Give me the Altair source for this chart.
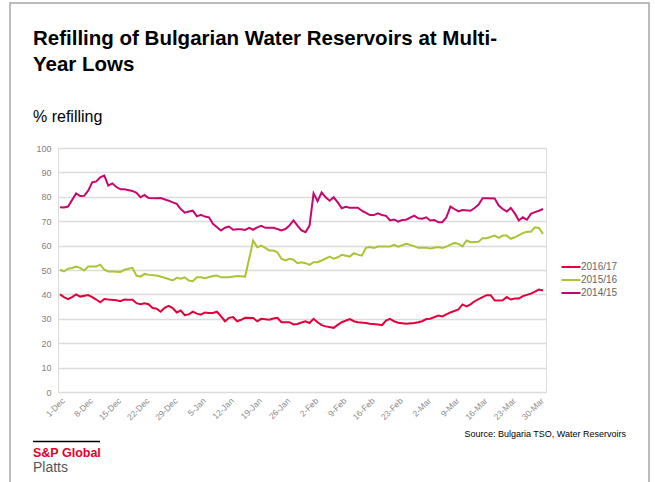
import json
import altair as alt
import pandas as pd

TITLE_LINES = ["Refilling of Bulgarian Water Reservoirs at Multi-", "Year Lows"]
SUBTITLE = "% refilling"
SOURCE = "Source: Bulgaria TSO, Water Reservoirs"
BRAND = "S&P Global"
BRAND2 = "Platts"

SERIES = ["2016/17", "2015/16", "2014/15"]
COLORS = ["#E2003A", "#A9C536", "#C8076E"]

TICK_DAYS = [0, 7, 14, 21, 28, 35, 42, 49, 56, 63, 70, 77, 84, 91, 98, 105, 112, 119]
TICK_LABELS = ["1-Dec", "8-Dec", "15-Dec", "22-Dec", "29-Dec", "5-Jan", "12-Jan", "19-Jan",
               "26-Jan", "2-Feb", "9-Feb", "16-Feb", "23-Feb", "2-Mar", "9-Mar", "16-Mar",
               "23-Mar", "30-Mar"]
Y_TICKS = [0, 10, 20, 30, 40, 50, 60, 70, 80, 90, 100]

# day offsets from 1-Dec and % refilling
DAYS_1617 = [0, 1, 2, 3, 4, 5, 7, 8, 9, 10, 11, 12, 14, 15, 16, 17, 18, 19, 20, 21, 22, 23, 24, 25,
             26, 27, 28, 29, 30, 31, 32, 33, 34, 35, 36, 37, 38, 39, 40, 41, 42, 43, 44, 45, 46,
             48, 49, 50, 52, 53, 54, 55, 57, 58, 59, 60, 61, 62, 63, 64, 65, 66, 68, 69, 70, 72,
             73, 74, 76, 77, 79, 80, 81, 82, 83, 84, 86, 88, 89, 90, 91, 92, 94, 95, 96, 97, 99,
             100, 101, 102, 103, 105, 106, 107, 108, 109, 110, 111, 112, 113, 114, 115, 117, 118,
             119, 120]
VALS_1617 = [40.0, 38.9, 38.1, 38.9, 40.0, 39.1, 39.7, 38.9, 37.9, 36.8, 38.1, 37.9, 37.6, 37.2,
             37.9, 37.8, 37.8, 36.4, 36.0, 36.4, 36.0, 34.4, 34.1, 32.9, 34.5, 35.3, 34.4, 32.6,
             33.4, 31.5, 31.8, 32.9, 32.1, 31.7, 32.6, 32.4, 32.4, 32.9, 31.0, 29.0, 30.4, 30.7,
             29.0, 29.6, 30.4, 30.3, 29.0, 30.0, 29.6, 30.1, 30.4, 28.6, 28.6, 27.7, 27.9, 28.5,
             29.0, 28.3, 30.0, 28.6, 27.4, 26.9, 26.3, 27.5, 28.6, 29.9, 29.0, 28.6, 28.3, 28.0,
             27.7, 27.4, 29.3, 30.0, 29.0, 28.4, 28.0, 28.3, 28.6, 29.0, 29.9, 30.0, 31.3, 31.0,
             31.8, 32.6, 33.8, 35.9, 35.1, 35.9, 37.2, 38.9, 39.7, 39.7, 37.5, 37.5, 37.6, 38.9,
             37.9, 38.3, 38.3, 39.3, 40.3, 41.1, 42.0, 41.6]

DAYS_1516 = [0, 1, 2, 3, 4, 5, 6, 7, 9, 10, 11, 12, 13, 15, 16, 17, 18, 19, 20, 21, 22, 24, 26,
             28, 29, 30, 31, 32, 33, 34, 35, 36, 38, 39, 40, 42, 44, 46, 48, 49, 50, 51, 52, 53,
             54, 55, 56, 57, 58, 59, 60, 61, 62, 63, 64, 65, 67, 68, 69, 70, 72, 73, 74, 75, 76,
             77, 78, 79, 81, 82, 83, 84, 86, 87, 88, 89, 91, 92, 94, 95, 96, 98, 99, 100, 101,
             102, 104, 105, 106, 108, 109, 110, 111, 112, 113, 115, 116, 117, 118, 119, 120]
VALS_1516 = [50.1, 49.4, 50.5, 50.8, 51.4, 50.9, 49.8, 51.4, 51.4, 52.2, 50.1, 49.4, 49.4, 49.2,
             50.1, 50.5, 50.9, 47.7, 47.3, 48.4, 48.0, 47.7, 46.8, 45.7, 46.8, 46.4, 47.0, 45.7,
             45.4, 47.0, 47.0, 46.6, 47.5, 47.7, 47.0, 47.0, 47.5, 47.3, 62.0, 59.3, 60.0, 59.1,
             58.0, 58.0, 57.3, 54.6, 53.9, 54.6, 54.2, 52.8, 53.2, 52.8, 52.1, 53.2, 53.2, 53.9,
             55.5, 54.6, 55.2, 56.2, 55.5, 56.9, 56.3, 55.9, 59.1, 59.4, 59.0, 59.6, 59.6, 59.6,
             60.3, 59.6, 60.7, 60.3, 59.8, 59.1, 59.1, 58.8, 59.4, 59.0, 59.6, 61.1, 60.7, 59.7,
             62.1, 61.4, 61.6, 63.0, 63.0, 64.1, 63.2, 64.1, 64.1, 62.8, 63.4, 65.1, 65.7, 65.7,
             67.5, 67.2, 64.8]

DAYS_1415 = [0, 1, 2, 4, 5, 6, 7, 8, 9, 10, 11, 12, 13, 14, 15, 16, 18, 19, 20, 21, 22, 24, 25,
             27, 28, 29, 30, 31, 32, 33, 34, 35, 36, 37, 38, 39, 40, 41, 42, 43, 44, 45, 46, 47,
             48, 49, 50, 51, 53, 54, 55, 56, 57, 58, 59, 60, 61, 62, 63, 64, 65, 66, 67, 68, 69,
             70, 71, 72, 73, 74, 75, 76, 77, 78, 79, 80, 81, 82, 83, 84, 85, 86, 88, 89, 90, 91,
             92, 93, 94, 95, 96, 97, 98, 99, 100, 102, 103, 104, 105, 106, 108, 109, 110, 111,
             112, 113, 114, 115, 116, 117, 118, 119, 120]
VALS_1415 = [75.7, 75.6, 76.0, 81.4, 80.3, 80.4, 82.5, 85.9, 86.3, 88.0, 88.7, 84.6, 85.5, 84.0,
             83.1, 83.1, 82.4, 81.6, 79.8, 80.8, 79.5, 79.4, 79.5, 78.4, 77.7, 77.1, 75.0, 73.5,
             74.0, 74.3, 72.0, 72.6, 71.9, 71.6, 68.9, 67.5, 66.2, 67.3, 67.8, 66.5, 66.7, 66.7,
             66.4, 67.3, 66.5, 67.5, 68.1, 67.3, 67.3, 66.8, 66.2, 66.8, 68.2, 70.3, 68.2, 66.2,
             65.5, 68.2, 81.4, 78.2, 81.8, 79.8, 78.4, 79.8, 77.7, 75.3, 75.9, 75.5, 75.5, 75.5,
             74.3, 73.4, 72.5, 72.5, 73.2, 72.5, 72.2, 70.3, 70.7, 69.8, 70.5, 70.6, 72.3, 71.2,
             71.0, 71.6, 70.3, 70.5, 69.6, 69.6, 71.6, 76.0, 75.0, 74.0, 74.6, 74.3, 75.4, 76.8,
             79.4, 79.4, 79.3, 76.4, 75.0, 74.0, 75.4, 73.2, 70.3, 71.6, 70.6, 73.0, 73.7, 74.3,
             75.0]

rows = []
for name, days, vals in [(SERIES[0], DAYS_1617, VALS_1617),
                         (SERIES[1], DAYS_1516, VALS_1516),
                         (SERIES[2], DAYS_1415, VALS_1415)]:
    assert len(days) == len(vals), name
    for d, v in zip(days, vals):
        rows.append({"season": name, "day": d, "value": v})
df = pd.DataFrame(rows)

FONT = "Liberation Sans"
label_expr = json.dumps(TICK_LABELS) + "[round(datum.value / 7)]"

lines = alt.Chart(df).mark_line(strokeWidth=2).encode(
    x=alt.X("day:Q",
            scale=alt.Scale(domain=[-0.5, 120.75], nice=False, zero=False),
            axis=alt.Axis(values=TICK_DAYS, labelExpr=label_expr, labelAngle=-45,
                          grid=False, ticks=False, domain=False, title=None,
                          labelColor="#8a8a8a", labelFontSize=8.5, labelFont=FONT,
                          labelPadding=4, labelOverlap=False)),
    y=alt.Y("value:Q",
            scale=alt.Scale(domain=[0, 100], nice=False),
            axis=alt.Axis(values=Y_TICKS, grid=True, gridColor="#dcdcdc", gridWidth=1.5,
                          ticks=False, domain=False, title=None, labelColor="#7f7f7f",
                          labelFontSize=9, labelFont=FONT, labelPadding=7)),
    color=alt.Color("season:N",
                    scale=alt.Scale(domain=SERIES, range=COLORS),
                    legend=alt.Legend(title=None, orient="none", legendX=505, legendY=111,
                                      symbolType="M-1.36,0H1.36", symbolSize=196,
                                      symbolStrokeWidth=2, labelFontSize=10,
                                      labelColor="#666666", labelFont=FONT, labelOffset=2,
                                      rowPadding=0)),
    detail="season:N",
)

one = pd.DataFrame({"k": [0]})


def text(t, x, y, **kw):
    return alt.Chart(pd.DataFrame({"t": [t]})).mark_text(font=FONT, **kw).encode(
        x=alt.value(x), y=alt.value(y), text="t:N")


frame = alt.Chart(one).mark_rect(fill="transparent", stroke="#a6a6a6", strokeWidth=1.5).encode(
    x=alt.value(-48), x2=alt.value(591), y=alt.value(-145), y2=alt.value(400))

brand_rule = alt.Chart(one).mark_rule(color="#000000", strokeWidth=1.5).encode(
    x=alt.value(-25), x2=alt.value(42), y=alt.value(293.5))

chart = alt.layer(
    frame,
    lines,
    text(TITLE_LINES[0], -25, -103, fontSize=20.5, fontWeight="bold", align="left",
         baseline="alphabetic", color="#000000"),
    text(TITLE_LINES[1], -25, -77, fontSize=20.5, fontWeight="bold", align="left",
         baseline="alphabetic", color="#000000"),
    text(SUBTITLE, -25, -26, fontSize=16, align="left", baseline="alphabetic",
         color="#000000"),
    text(SOURCE, 568, 289, fontSize=9, align="right", baseline="alphabetic",
         color="#000000"),
    brand_rule,
    text(BRAND, -25, 308.5, fontSize=12.5, fontWeight="bold", align="left",
         baseline="alphabetic", color="#E4002B"),
    text(BRAND2, -25, 323.5, fontSize=14, align="left", baseline="alphabetic",
         color="#555555"),
).properties(
    width=488, height=244,
    autosize=alt.AutoSizeParams(type="none"),
    padding={"left": 58, "top": 148, "right": 109, "bottom": 90},
).configure_view(stroke=None).configure(background="white")

chart.save("out.html", embed_options={"renderer": "svg", "actions": False})
